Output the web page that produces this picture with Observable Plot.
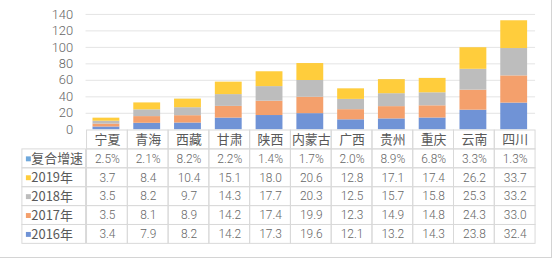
<!DOCTYPE html>
<html>
<head>
<meta charset="utf-8">
<script src="https://cdn.jsdelivr.net/npm/d3@7"></script>
<script src="https://cdn.jsdelivr.net/npm/@observablehq/plot@0.6"></script>
<style>
  html, body { margin: 0; padding: 0; background: #fff; }
  #wrap { position: relative; width: 551px; height: 257px; border-right: 1px solid #d4d4d4; border-bottom: 1px solid #d4d4d4; background: #fff; overflow: hidden; }
  #wrap svg { display: block; overflow: visible; }
</style>
</head>
<body>
<div id="wrap"></div>
<script>
// ---- data ----
const provinces = ["宁夏", "青海", "西藏", "甘肃", "陕西", "内蒙古", "广西", "贵州", "重庆", "云南", "四川"];
const growth = [2.5, 2.1, 8.2, 2.2, 1.4, 1.7, 2.0, 8.9, 6.8, 3.3, 1.3]; // 复合增速 (%)
const v2019 = [3.7, 8.4, 10.4, 15.1, 18.0, 20.6, 12.8, 17.1, 17.4, 26.2, 33.7];
const v2018 = [3.5, 8.2, 9.7, 14.3, 17.7, 20.3, 12.5, 15.7, 15.8, 25.3, 33.2];
const v2017 = [3.5, 8.1, 8.9, 14.2, 17.4, 19.9, 12.3, 14.9, 14.8, 24.3, 33.0];
const v2016 = [3.4, 7.9, 8.2, 14.2, 17.3, 19.6, 12.1, 13.2, 14.3, 23.8, 32.4];
const yTicks = [0, 20, 40, 60, 80, 100, 120, 140];

const seriesNames = ["2016年", "2017年", "2018年", "2019年", "复合增速"];
const seriesColors = ["#7093d6", "#f4a06c", "#bdbdbd", "#ffcd3c", "#6fa8dc"];
const tableRows = ["复合增速", "2019年", "2018年", "2017年", "2016年"];

// ---- derived tables ----
const valuesBySeries = {"2016年": v2016, "2017年": v2017, "2018年": v2018, "2019年": v2019, "复合增速": growth.map(g => g / 100)};
const stackData = [];
for (const s of seriesNames) {
  provinces.forEach((p, i) => stackData.push({province: p, series: s, value: valuesBySeries[s][i]}));
}
const textBySeries = {
  "复合增速": growth.map(g => g.toFixed(1) + "%"),
  "2019年": v2019.map(v => v.toFixed(1)),
  "2018年": v2018.map(v => v.toFixed(1)),
  "2017年": v2017.map(v => v.toFixed(1)),
  "2016年": v2016.map(v => v.toFixed(1))
};
const headerKey = "header";
const cells = [];
provinces.forEach((p) => cells.push({province: p, row: headerKey, text: p, header: true}));
for (const r of tableRows) provinces.forEach((p, i) => cells.push({province: p, row: r, text: textBySeries[r][i], header: false}));

// ---- layout constants ----
const W = 554;
const plotLeft = 86, plotRight = 538, tableLeft = 22;
const font = "'Noto Sans CJK SC', 'Noto Sans', sans-serif";
const numFont = "Roboto, 'Noto Sans', sans-serif";
const txt = "#595959";
const colorScale = {domain: seriesNames, range: seriesColors};

const chart = Plot.plot({
  width: W,
  height: 131,
  marginLeft: plotLeft,
  marginRight: W - plotRight,
  marginTop: 14,
  marginBottom: 1,
  style: {fontFamily: numFont, fontSize: "13px", fontWeight: 300, color: "#666", background: "transparent", overflow: "visible"},
  x: {domain: provinces, paddingInner: 0.34, paddingOuter: 0.17, axis: null},
  y: {domain: [0, 140], ticks: yTicks, tickSize: 0, tickPadding: 13, label: null, tickFormat: d => String(d)},
  color: colorScale,
  marks: [
    Plot.ruleY(yTicks.filter(d => d > 0), {stroke: "#e4e4e4", strokeWidth: 1}),
    Plot.barY(stackData, {x: "province", y: "value", fill: "series"})
  ]
});

const table = Plot.plot({
  width: W,
  height: 116,
  marginLeft: tableLeft,
  marginRight: W - plotRight,
  marginTop: 0,
  marginBottom: 2,
  style: {fontFamily: font, fontSize: "12.5px", color: txt, background: "transparent", overflow: "visible"},
  x: {type: "band", domain: provinces, range: [plotLeft, plotRight], padding: 0, axis: null},
  y: {type: "band", domain: [headerKey, ...tableRows], padding: 0, axis: null},
  color: colorScale,
  marks: [
    Plot.cell(cells, {x: "province", y: "row", fill: "none", stroke: "#d9d9d9", strokeWidth: 1}),
    Plot.cell(tableRows, {y: d => d, fill: "none", stroke: "#d9d9d9", strokeWidth: 1, insetRight: plotRight - plotLeft}),
    Plot.text(cells.filter(d => d.header), {x: "province", y: "row", text: "text", fill: txt, fontSize: 13}),
    Plot.text(cells.filter(d => !d.header), {x: "province", y: "row", text: "text", fill: "#666", fontSize: 12, fontFamily: numFont, fontWeight: 300}),
    Plot.dot(tableRows, {y: d => d, frameAnchor: "left", dx: 6, symbol: "square", r: 2.8, fill: d => d, stroke: null}),
    Plot.text(tableRows, {y: d => d, text: d => d, frameAnchor: "left", textAnchor: "start", dx: 9, fill: txt, fontSize: 13})
  ]
});

const wrap = document.getElementById("wrap");
wrap.appendChild(chart);
wrap.appendChild(table);
</script>
</body>
</html>
